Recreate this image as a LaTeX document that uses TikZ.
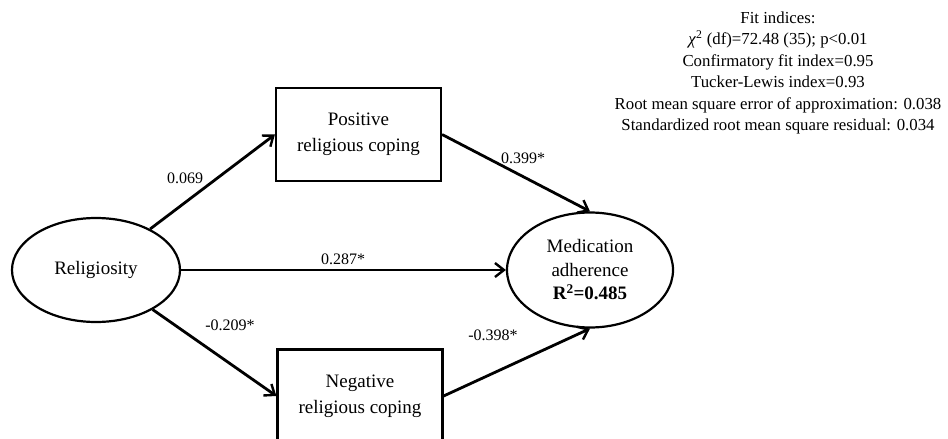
\documentclass[tikz,border=0pt]{standalone}
\usepackage{fontspec}
\setmainfont{Liberation Serif}
\usetikzlibrary{shapes.geometric,arrows.meta}

\begin{document}
\begin{tikzpicture}[
  x=1pt, y=-1pt,
  lat/.style={ellipse, draw, line width=2.2pt, align=center, font=\fontsize{19}{23.5}\selectfont},
  obs/.style={rectangle, draw, line width=2.2pt, align=center, minimum width=165pt, minimum height=93pt, font=\fontsize{19}{26}\selectfont},
  path/.style={line width=2.8pt, -{Straight Barb[length=9pt,width=14pt,line width=2.4pt]}},
  coef/.style={font=\fontsize{16}{19}\selectfont, inner sep=1pt}
]
\useasboundingbox (0,0) rectangle (948,439);

% --- latent and observed variables ---
\node[lat, minimum width=168pt, minimum height=104pt] (rel) at (96,270) {Religiosity};
\node[lat, minimum width=166pt, minimum height=115pt] (med) at (590,270)
  {Medication\\adherence\\\textbf{R\textsuperscript{2}=0.485}};
\node[obs] (pos) at (358.5,134.5) {Positive\\religious coping};
\node[obs] (neg) at (360,396) {Negative\\religious coping};

% --- paths ---
\draw[path] (rel) -- (pos.west);
\draw[path] (pos.east) -- (med.north);
\draw[path] (rel) -- (med);
\draw[path] (rel) -- (neg.west);
\draw[path] (neg.east) -- (med.south);

% --- path coefficients ---
\node[coef] (c1) at (185,178) {0.069};
\node[coef] (c2) at (523,158) {0.399*};
\node[coef] (c3) at (343,259) {0.287*};
\node[coef] (c4) at (230,325) {-0.209*};
\node[coef] (c5) at (493,335) {-0.398*};

% --- fit indices ---
\node[align=center, font=\fontsize{16.8}{21.5}\selectfont] (fit) at (778,73)
  {Fit indices:\\
   \textit{χ}\textsuperscript{2} (df)=72.48 (35); p<0.01\\
   Confirmatory fit index=0.95\\
   Tucker-Lewis index=0.93\\
   Root mean square error of approximation: 0.038\\
   Standardized root mean square residual: 0.034};

\end{tikzpicture}
\end{document}
